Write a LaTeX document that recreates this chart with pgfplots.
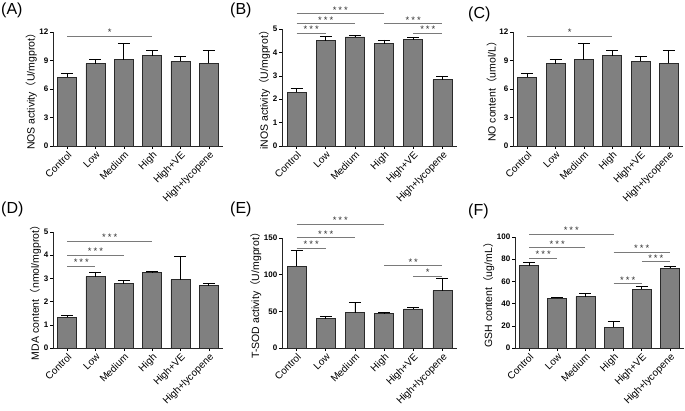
\documentclass[border=0pt]{standalone}
\usepackage{pgfplots}
\pgfplotsset{compat=1.18}
\usepackage{fontspec}
\setmainfont{Liberation Sans}
\newfontfamily\cjk{Noto Sans CJK SC}
\definecolor{barfill}{HTML}{808080}
\definecolor{baredge}{HTML}{2A2A2A}
\definecolor{sigcol}{HTML}{7A7A7A}
\newcommand{\fp}{{\cjk（}}
\newcommand{\bp}{{\cjk）}}
\newcommand{\sthree}{*\kern2pt*\kern2pt*}
\newcommand{\stwo}{*\kern2pt*}
\newcommand{\sig}[5]{%
  \addplot[sigline] coordinates {(#1,#3) (#2,#3)};
  \node[sigstar] at (axis cs:#4,#3) {#5};}
\tikzset{sigstar/.style={anchor=south, inner sep=0.3pt, font=\fontsize{9.5}{9.5}\selectfont, text=black!80}}
\pgfplotsset{
  sigline/.style={draw=sigcol, line width=0.9pt, no marks, forget plot},
  panel/.style={
    scale only axis, axis lines*=left, clip=false,
    xmin=-0.5, xmax=5.5, ymin=0,
    xtick={0,...,5},
    xticklabels={Control,Low,Medium,High,High+VE,High+lycopene},
    x tick label style={rotate=45, anchor=north east, inner sep=1pt, font=\fontsize{10}{10}\selectfont},
    y tick label style={font=\bfseries\fontsize{8}{8}\selectfont, inner sep=1.5pt},
    ylabel style={font=\fontsize{10.5}{11}\selectfont, inner sep=1pt},
    tick align=outside, major tick length=3pt,
    tick style={black, line width=0.6pt},
    axis line style={black!85, line width=0.7pt},
    /pgf/number format/assume math mode=true,
  },
  bars/.style={ybar, bar width=19pt, bar shift=0pt, fill=barfill, draw=baredge, line width=0.6pt,
    error bars/.cd, y dir=plus, y explicit,
    error bar style={black, line width=0.7pt},
    error mark options={black, mark size=6pt, line width=0.7pt, rotate=90}},
}
\begin{document}
\begin{tikzpicture}
\path[use as bounding box] (0,0) rectangle (685pt,410pt);
% panel letters
\node[anchor=north west, inner sep=0pt, font=\fontsize{16}{16}\selectfont] at (1pt,407pt) {(A)};
\node[anchor=north west, inner sep=0pt, font=\fontsize{16}{16}\selectfont] at (230pt,407pt) {(B)};
\node[anchor=north west, inner sep=0pt, font=\fontsize{16}{16}\selectfont] at (468pt,403pt) {(C)};
\node[anchor=north west, inner sep=0pt, font=\fontsize{16}{16}\selectfont] at (1pt,208pt) {(D)};
\node[anchor=north west, inner sep=0pt, font=\fontsize{16}{16}\selectfont] at (230pt,208pt) {(E)};
\node[anchor=north west, inner sep=0pt, font=\fontsize{16}{16}\selectfont] at (468pt,206pt) {(F)};

% (A)
\begin{axis}[panel, at={(53pt,264pt)}, anchor=south west, width=170pt, height=114pt,
  ymax=12, ytick={0,3,6,9,12}, ylabel={NOS activity\fp U/mgprot\bp}]
\addplot[bars] coordinates {(0,7.25) +- (0,0.37) (1,8.66) +- (0,0.46) (2,9.10) +- (0,1.70) (3,9.50) +- (0,0.52) (4,8.92) +- (0,0.53) (5,8.70) +- (0,1.32)};
\sig{0}{3}{11.55}{1.5}{*}
\end{axis}

% (B)
\begin{axis}[panel, at={(282pt,264pt)}, anchor=south west, width=175pt, height=117pt,
  ymax=5, ytick={0,1,2,3,4,5}, ylabel={iNOS activity\fp U/mgprot\bp}]
\addplot[bars] coordinates {(0,2.29) +- (0,0.17) (1,4.50) +- (0,0.17) (2,4.66) +- (0,0.08) (3,4.37) +- (0,0.16) (4,4.54) +- (0,0.10) (5,2.83) +- (0,0.15)};
\sig{0}{3}{5.66}{1.5}{\sthree}
\sig{0}{2}{5.23}{1}{\sthree}
\sig{0}{1}{4.81}{0.5}{\sthree}
\sig{3}{5}{5.23}{4}{\sthree}
\sig{4}{5}{4.81}{4.5}{\sthree}
\end{axis}

% (C)
\begin{axis}[panel, at={(513pt,264pt)}, anchor=south west, width=170pt, height=114pt,
  ymax=12, ytick={0,3,6,9,12}, ylabel={NO content\fp umol/L\bp}]
\addplot[bars] coordinates {(0,7.25) +- (0,0.37) (1,8.66) +- (0,0.46) (2,9.10) +- (0,1.70) (3,9.50) +- (0,0.52) (4,8.92) +- (0,0.53) (5,8.70) +- (0,1.32)};
\sig{0}{3}{11.55}{1.5}{*}
\end{axis}

% (D)
\begin{axis}[panel, at={(53pt,62pt)}, anchor=south west, width=170pt, height=116pt,
  ymax=5, ytick={0,1,2,3,4,5}, ylabel={MDA content\fp nmol/mgprot\bp}]
\addplot[bars] coordinates {(0,1.32) +- (0,0.08) (1,3.08) +- (0,0.20) (2,2.77) +- (0,0.13) (3,3.25) +- (0,0.05) (4,2.95) +- (0,1.00) (5,2.69) +- (0,0.11)};
\sig{0}{3}{4.60}{1.5}{\sthree}
\sig{0}{2}{4.00}{1}{\sthree}
\sig{0}{1}{3.52}{0.5}{\sthree}
\end{axis}

% (E)
\begin{axis}[panel, at={(282pt,62pt)}, anchor=south west, width=175pt, height=110pt,
  ymax=150, ytick={0,50,100,150}, ylabel={T-SOD activity\fp U/mgprot\bp}]
\addplot[bars] coordinates {(0,111.8) +- (0,20.9) (1,40.0) +- (0,3.0) (2,48.2) +- (0,13.6) (3,46.8) +- (0,1.4) (4,53.2) +- (0,2.3) (5,78.2) +- (0,17.3)};
\sig{0}{3}{169}{1.5}{\sthree}
\sig{0}{2}{150.5}{1}{\sthree}
\sig{0}{1}{136.4}{0.5}{\sthree}
\sig{3}{5}{112.3}{4}{\stwo}
\sig{4}{5}{97.7}{4.5}{*}
\end{axis}

% (F)
\begin{axis}[panel, at={(515pt,62pt)}, anchor=south west, width=169pt, height=111pt,
  ymax=100, ytick={0,20,40,60,80,100}, ylabel={GSH content\fp ug/mL\bp}]
\addplot[bars] coordinates {(0,74.3) +- (0,3.0) (1,44.7) +- (0,1.2) (2,46.2) +- (0,3.0) (3,18.7) +- (0,4.9) (4,52.9) +- (0,2.7) (5,71.9) +- (0,2.1)};
\sig{0}{3}{102.4}{1.5}{\sthree}
\sig{0}{2}{90.3}{1}{\sthree}
\sig{0}{1}{81.0}{0.5}{\sthree}
\sig{3}{5}{86.4}{4}{\sthree}
\sig{4}{5}{77.6}{4.5}{\sthree}
\sig{3}{4}{58.0}{3.5}{\sthree}
\end{axis}
\end{tikzpicture}
\end{document}
